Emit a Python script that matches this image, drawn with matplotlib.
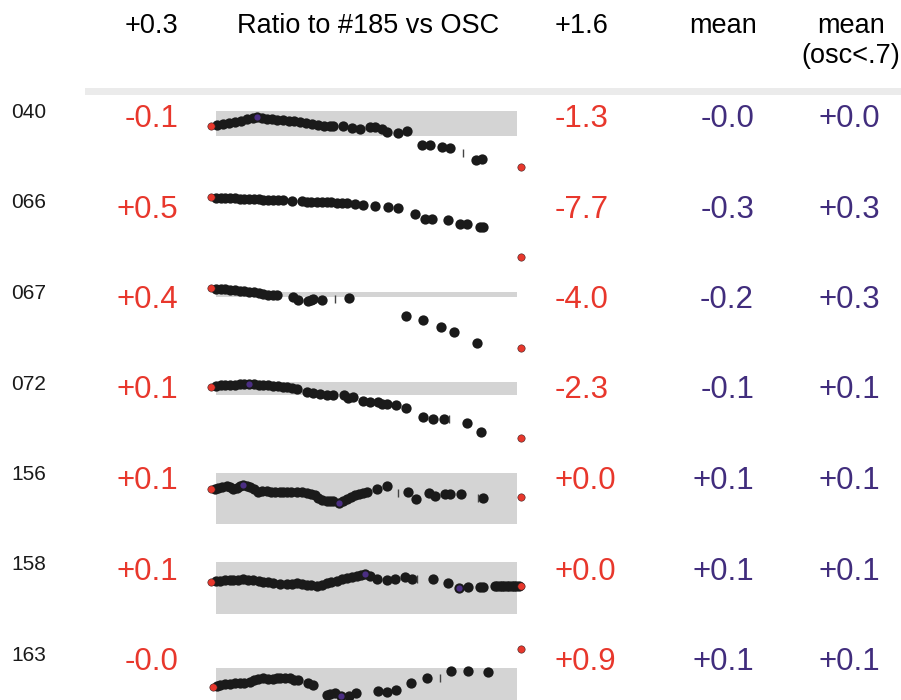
import matplotlib
matplotlib.use("Agg")
import matplotlib.pyplot as plt
from matplotlib.patches import Rectangle

plt.rcParams['font.family'] = ['Liberation Sans', 'DejaVu Sans']

# Table values
samples = ["040", "066", "067", "072", "156", "158", "163"]
ratio_at_low = ["-0.1", "+0.5", "+0.4", "+0.1", "+0.1", "+0.1", "-0.0"]
ratio_at_high = ["-1.3", "-7.7", "-4.0", "-2.3", "+0.0", "+0.0", "+0.9"]
mean_all = ["-0.0", "-0.3", "-0.2", "-0.1", "+0.1", "+0.1", "+0.1"]
mean_low_osc = ["+0.0", "+0.3", "+0.3", "+0.1", "+0.1", "+0.1", "+0.1"]

# Sparkline data: OSC value and ratio (%) to #185
osc_040 = [0.30, 0.325, 0.35, 0.375, 0.40, 0.425, 0.45, 0.475, 0.494, 0.515,
           0.535, 0.555, 0.575, 0.60, 0.625, 0.65, 0.675, 0.70, 0.725, 0.75,
           0.775, 0.80, 0.813, 0.855, 0.89, 0.925, 0.967, 0.988, 1.016, 1.037,
           1.085, 1.12, 1.183, 1.218, 1.267, 1.302, 1.411, 1.435, 1.60]
ratio_040 = [-0.10, -0.07, -0.05, -0.03, 0.00, 0.04, 0.09, 0.13, 0.155, 0.13,
             0.11, 0.09, 0.08, 0.06, 0.04, 0.03, 0.01, -0.01, -0.04, -0.07,
             -0.10, -0.10, -0.10, -0.10, -0.16, -0.20, -0.13, -0.15, -0.20, -0.27,
             -0.32, -0.26, -0.65, -0.66, -0.73, -0.74, -1.10, -1.06, -1.30]

osc_066 = [0.30, 0.32, 0.34, 0.36, 0.38, 0.40, 0.42, 0.44, 0.46, 0.48,
           0.50, 0.52, 0.54, 0.56, 0.58, 0.60, 0.638, 0.68, 0.701, 0.72,
           0.743, 0.765, 0.785, 0.805, 0.827, 0.85, 0.869, 0.904, 0.939, 0.988,
           1.044, 1.085, 1.155, 1.197, 1.225, 1.295, 1.344, 1.372, 1.428, 1.442, 1.60]
ratio_066 = [0.50, 0.45, 0.42, 0.40, 0.38, 0.35, 0.33, 0.30, 0.28, 0.25,
             0.23, 0.20, 0.18, 0.16, 0.14, 0.10, 0.05, -0.02, -0.09, -0.11,
             -0.14, -0.16, -0.18, -0.20, -0.23, -0.28, -0.32, -0.41, -0.55, -0.64,
             -0.87, -1.00, -1.78, -2.51, -2.51, -2.60, -3.19, -3.14, -3.51, -3.51, -7.70]

osc_067 = [0.30, 0.32, 0.34, 0.36, 0.38, 0.40, 0.42, 0.44, 0.46, 0.48,
           0.50, 0.52, 0.54, 0.56, 0.575, 0.642, 0.666, 0.708, 0.72, 0.729,
           0.764, 0.88, 1.118, 1.187, 1.264, 1.319, 1.414, 1.60]
ratio_067 = [0.40, 0.37, 0.35, 0.33, 0.30, 0.27, 0.23, 0.19, 0.15, 0.09,
             0.03, -0.02, -0.06, -0.09, -0.10, -0.22, -0.47, -0.54, -0.50, -0.42,
             -0.47, -0.34, -1.65, -1.95, -2.49, -2.86, -3.68, -4.00]

osc_072 = [0.30, 0.32, 0.34, 0.36, 0.38, 0.40, 0.42, 0.44, 0.461, 0.48,
           0.50, 0.52, 0.54, 0.56, 0.58, 0.60, 0.62, 0.64, 0.66, 0.701,
           0.729, 0.757, 0.785, 0.81, 0.858, 0.876, 0.897, 0.939, 0.967, 1.002,
           1.016, 1.037, 1.076, 1.118, 1.187, 1.229, 1.277, 1.372, 1.431, 1.60]
ratio_072 = [0.10, 0.13, 0.16, 0.18, 0.19, 0.20, 0.21, 0.22, 0.23, 0.21,
             0.19, 0.18, 0.16, 0.14, 0.12, 0.09, 0.07, 0.03, -0.03, -0.13,
             -0.18, -0.24, -0.29, -0.29, -0.31, -0.42, -0.40, -0.56, -0.62, -0.61,
             -0.72, -0.73, -0.78, -0.89, -1.31, -1.41, -1.44, -1.62, -2.02, -2.30]

osc_156 = [0.30, 0.315, 0.33, 0.345, 0.366, 0.38, 0.394, 0.41, 0.42, 0.433,
           0.45, 0.464, 0.48, 0.498, 0.515, 0.533, 0.55, 0.57, 0.589, 0.60,
           0.617, 0.635, 0.659, 0.68, 0.701, 0.72, 0.736, 0.75, 0.765, 0.785,
           0.80, 0.813, 0.838, 0.855, 0.869, 0.885, 0.904, 0.92, 0.939, 0.953,
           0.995, 1.037, 1.127, 1.16, 1.215, 1.239, 1.281, 1.302, 1.347, 1.439, 1.60]
ratio_156 = [0.10, 0.11, 0.12, 0.13, 0.145, 0.13, 0.11, 0.12, 0.14, 0.154,
             0.14, 0.125, 0.10, 0.07, 0.075, 0.079, 0.07, 0.065, 0.062, 0.064,
             0.066, 0.065, 0.066, 0.062, 0.058, 0.04, 0.029, -0.013, -0.03, -0.042,
             -0.044, -0.046, -0.067, -0.04, -0.025, 0.00, 0.029, 0.045, 0.058, 0.066,
             0.10, 0.141, 0.07, -0.021, 0.05, 0.02, 0.041, 0.041, 0.041, -0.013, 0.008]

osc_158 = [0.30, 0.32, 0.338, 0.36, 0.38, 0.394, 0.415, 0.436, 0.455, 0.477,
           0.50, 0.519, 0.54, 0.561, 0.59, 0.617, 0.64, 0.659, 0.68, 0.701,
           0.72, 0.743, 0.765, 0.785, 0.805, 0.827, 0.85, 0.869, 0.89, 0.911,
           0.93, 0.946, 0.967, 0.995, 1.037, 1.071, 1.113, 1.141, 1.229, 1.295,
           1.341, 1.379, 1.428, 1.442, 1.49, 1.50, 1.51, 1.52, 1.53, 1.54,
           1.55, 1.56, 1.57, 1.58, 1.59, 1.60]
ratio_158 = [0.10, 0.11, 0.116, 0.12, 0.125, 0.126, 0.13, 0.136, 0.13, 0.126,
             0.11, 0.10, 0.09, 0.075, 0.07, 0.065, 0.068, 0.075, 0.065, 0.049,
             0.042, 0.034, 0.05, 0.085, 0.10, 0.116, 0.135, 0.152, 0.17, 0.188,
             0.20, 0.213, 0.188, 0.142, 0.126, 0.136, 0.167, 0.142, 0.136, 0.085,
             -0.002, 0.024, 0.013, 0.024, 0.039, 0.039, 0.039, 0.039, 0.039, 0.039,
             0.039, 0.039, 0.039, 0.039, 0.039, 0.039]

osc_163 = [0.31, 0.325, 0.338, 0.36, 0.38, 0.40, 0.422, 0.44, 0.464, 0.48,
           0.498, 0.519, 0.54, 0.561, 0.575, 0.589, 0.61, 0.631, 0.65, 0.666,
           0.708, 0.729, 0.785, 0.80, 0.82, 0.844, 0.88, 0.908, 1.002, 1.039,
           1.076, 1.139, 1.204, 1.305, 1.379, 1.463, 1.60]
ratio_163 = [-0.00, 0.03, 0.05, 0.07, 0.08, 0.09, 0.09, 0.11, 0.13, 0.17,
             0.19, 0.21, 0.19, 0.19, 0.22, 0.23, 0.22, 0.21, 0.18, 0.16,
             0.11, 0.06, -0.18, -0.16, -0.14, -0.20, -0.195, -0.14, -0.09, -0.11,
             -0.07, 0.11, 0.23, 0.39, 0.39, 0.37, 0.90]

# single low-weight readings drawn as small ticks
tick_osc = [[1.358], [], [0.82], [1.299], [1.085, 1.421], [1.165], [1.26]]
tick_ratio = [[-0.91], [], [-0.42], [-1.44], [0.05, -0.013], [0.142], [0.21]]

# reference band (ratio range) per sample, None where not shown
bands = [(-0.39, 0.34), None, (-0.22, 0.15), (-0.29, 0.34),
         (-0.33, 0.31), (-0.40, 0.40), (-0.45, 0.45)]

all_osc = [osc_040, osc_066, osc_067, osc_072, osc_156, osc_158, osc_163]
all_ratio = [ratio_040, ratio_066, ratio_067, ratio_072, ratio_156, ratio_158, ratio_163]

# per-row vertical scale of each sparkline
spark_ylim = [(-1.118, 1.516), (-6.833, 5.467), (-3.541, 3.126), (-2.033, 2.202),
              (-0.315, 0.81), (-0.382, 1.003), (-0.380, 1.732)]

RED = '#e8372c'
PURPLE = '#412d7d'
DOT = '#1a1a1a'
BAND = '#d4d4d4'

W, H = 901, 700
fig = plt.figure(figsize=(W / 100, H / 100), dpi=100)

# background axes in pixel coordinates for the table text
ax0 = fig.add_axes([0, 0, 1, 1])
ax0.set_xlim(0, W)
ax0.set_ylim(H, 0)
ax0.axis('off')

head_fs = 19.5
val_fs = 22.5
lab_fs = 15

ax0.text(178, 33, "+0.3", ha='right', va='baseline', fontsize=head_fs)
ax0.text(368, 33, "Ratio to #185 vs OSC", ha='center', va='baseline', fontsize=head_fs)
ax0.text(555, 33, "+1.6", ha='left', va='baseline', fontsize=head_fs)
ax0.text(723.5, 33, "mean", ha='center', va='baseline', fontsize=head_fs)
ax0.text(851, 33, "mean", ha='center', va='baseline', fontsize=head_fs)
ax0.text(851, 63, "(osc<.7)", ha='center', va='baseline', fontsize=head_fs)
ax0.add_patch(Rectangle((85, 88), 816, 7, color='#ebebeb', lw=0))

row_gap = 90.5
for i, name in enumerate(samples):
    base = 127 + row_gap * i
    ax0.text(11, base - 9, name, ha='left', va='baseline', fontsize=lab_fs, color='#1a1a1a')
    ax0.text(178, base, ratio_at_low[i], ha='right', va='baseline', fontsize=val_fs, color=RED)
    ax0.text(555, base, ratio_at_high[i], ha='left', va='baseline', fontsize=val_fs, color=RED)
    ax0.text(754, base, mean_all[i], ha='right', va='baseline', fontsize=val_fs, color=PURPLE)
    ax0.text(818, base, mean_low_osc[i], ha='left', va='baseline', fontsize=val_fs, color=PURPLE)

    # sparkline
    rc = 115.5 + row_gap * i
    ax = fig.add_axes([216 / W, 1 - (rc + 45) / H, 301 / W, 90 / H])
    ax.patch.set_alpha(0)
    ax.set_xlim(0.321, 1.583)
    ax.set_ylim(*spark_ylim[i])
    ax.axis('off')

    x = all_osc[i]
    y = all_ratio[i]
    if bands[i] is not None:
        span = ax.axhspan(bands[i][0], bands[i][1], color=BAND, lw=0, zorder=0)
        span.set_clip_on(False)
    ax.scatter(x[1:-1], y[1:-1], s=55, color=DOT, linewidths=0, zorder=2, clip_on=False)
    if tick_osc[i]:
        ax.plot(tick_osc[i], tick_ratio[i], ls='none', marker='|', ms=6, mew=1,
                color='#444444', zorder=2, clip_on=False)
    # highest / lowest reading inside the range in purple
    inner = range(1, len(y) - 1)
    imax = max(range(len(y)), key=lambda k: y[k])
    imin = min(range(len(y)), key=lambda k: y[k])
    for k in (imax, imin):
        if k in inner:
            ax.scatter([x[k]], [y[k]], s=20, color='#4b2e83', linewidths=0, zorder=3, clip_on=False)
    # end points in red
    ax.scatter([x[0], x[-1]], [y[0], y[-1]], s=28, color=RED, edgecolors='#3a2020',
               linewidths=0.4, zorder=4, clip_on=False)

fig.savefig("out.png", dpi=100)
